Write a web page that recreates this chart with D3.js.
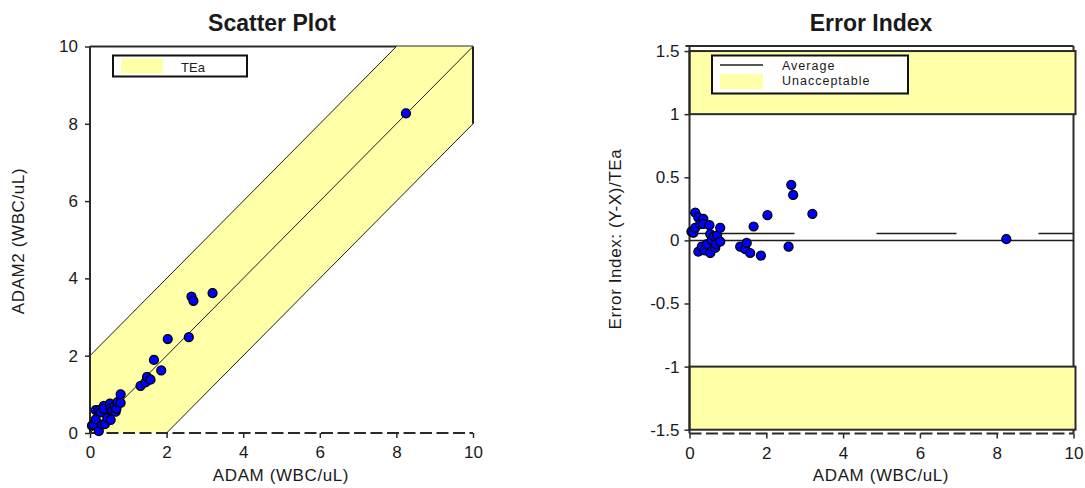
<!DOCTYPE html>
<html>
<head>
<meta charset="utf-8">
<script src="https://cdn.jsdelivr.net/npm/d3@7"></script>
<style>
    body { margin: 0; background: #ffffff; }
    text { font-family: "Liberation Sans", Arial, sans-serif; }
</style>
</head>
<body>
<div id="chart"></div>
<script>
//-------------------------------------------------------
// data
//-------------------------------------------------------
// method X (ADAM) and method Y (ADAM2), WBC/uL
const adam = [0.05, 0.10, 0.15, 0.15, 0.23, 0.23, 0.28, 0.32, 0.36, 0.36, 0.39, 0.45,
    0.52, 0.54, 0.54, 0.58, 0.64, 0.67, 0.69, 0.72, 0.80, 0.80,
    1.32, 1.45, 1.49, 1.58, 1.67, 1.86, 2.03, 2.58, 2.65, 2.70, 3.20, 8.25];
const adam2 = [0.19, 0.22, 0.35, 0.59, 0.59, 0.05, 0.54, 0.22, 0.70, 0.62, 0.23, 0.39,
    0.76, 0.64, 0.34, 0.58, 0.70, 0.55, 0.63, 0.80, 1.00, 0.78,
    1.22, 1.31, 1.45, 1.38, 1.89, 1.62, 2.43, 2.48, 3.53, 3.42, 3.62, 8.27];
// total allowable error (absolute)
const tea = 2;

const xTicks = [0, 2, 4, 6, 8, 10];
const yTicksScatter = [0, 2, 4, 6, 8, 10];
const yTicksError = [-1.5, -1, -0.5, 0, 0.5, 1, 1.5];
const limits = [-1, 1];        // unacceptable beyond +/-1
const limitsEdge = [-1.5, 1.5];

const points = adam.map((x, i) => ({ x: x, y: adam2[i], ei: (adam2[i] - x) / tea }));
const average = d3.mean(points, d => d.ei);

//-------------------------------------------------------
// properties
//-------------------------------------------------------
let properties = {
    width: 1085,
    height: 488,
    color: {
        band: "#ffffa8",
        point: "#0000ff",
        line: "#1e1e1e",
        axis: "#2a2a2a",
        text: "#1a1a1a"
    },
    tickFont: "17px",
    labelFont: "17px"
};

const svg = d3.select("#chart")
    .append("svg")
    .attr("width", properties.width)
    .attr("height", properties.height);

svg.append("rect")
    .attr("width", properties.width)
    .attr("height", properties.height)
    .attr("fill", "#ffffff");

const symbol = d3.symbol().type(d3.symbolCircle).size(64);

function styleAxis(g) {
    g.select(".domain").remove();
    g.selectAll(".tick line").attr("stroke", properties.color.axis).attr("stroke-width", 1.5);
    g.selectAll(".tick text")
        .attr("fill", properties.color.text)
        .style("font-size", properties.tickFont);
}

//-------------------------------------------------------
// scatter plot (left)
//-------------------------------------------------------
const xL = d3.scaleLinear().domain([0, 10]).range([90, 473]);
const yL = d3.scaleLinear().domain([0, 10]).range([433, 46.5]);
const left = svg.append("g").attr("id", "scatter");

// top frame line (partly covered by the band)
left.append("line")
    .attr("x1", xL(0)).attr("x2", xL(10))
    .attr("y1", yL(10)).attr("y2", yL(10))
    .attr("stroke", properties.color.axis)
    .attr("stroke-width", 2);

// TEa band around identity
const bandPts = [[0, 0], [0, tea], [10 - tea, 10], [10, 10], [10, 10 - tea], [tea, 0]];
left.append("polygon")
    .attr("points", bandPts.map(p => `${xL(p[0])},${yL(p[1])}`).join(" "))
    .attr("fill", properties.color.band);

const diagLines = [
    [[0, tea], [10 - tea, 10]],
    [[0, 0], [10, 10]],
    [[tea, 0], [10, 10 - tea]],
    [[10, 10 - tea], [10, 10]]
];
left.selectAll("line.diag")
    .data(diagLines)
    .enter()
    .append("line")
    .attr("class", "diag")
    .attr("x1", d => xL(d[0][0])).attr("y1", d => yL(d[0][1]))
    .attr("x2", d => xL(d[1][0])).attr("y2", d => yL(d[1][1]))
    .attr("stroke", properties.color.line)
    .attr("stroke-width", (d, i) => i == 3 ? 2 : 1);

// axes
left.append("g")
    .attr("transform", `translate(${xL(0)},0)`)
    .call(d3.axisLeft(yL).tickValues(yTicksScatter).tickSizeInner(5).tickSizeOuter(0).tickPadding(7))
    .call(styleAxis);
left.append("line")
    .attr("x1", xL(0)).attr("x2", xL(0))
    .attr("y1", yL(0)).attr("y2", yL(10))
    .attr("stroke", properties.color.axis)
    .attr("stroke-width", 2);

left.append("g")
    .attr("transform", `translate(0,${yL(0)})`)
    .call(d3.axisBottom(xL).tickValues(xTicks).tickSizeInner(5).tickSizeOuter(0).tickPadding(8))
    .call(styleAxis);
left.append("line")
    .attr("x1", xL(0)).attr("x2", xL(10))
    .attr("y1", yL(0)).attr("y2", yL(0))
    .attr("stroke", properties.color.axis)
    .attr("stroke-width", 2)
    .attr("stroke-dasharray", "12,4.5");

// points
left.append("g")
    .selectAll("path")
    .data(points)
    .enter()
    .append("path")
    .attr("d", symbol)
    .attr("transform", d => `translate(${xL(d.x)},${yL(d.y)})`)
    .attr("fill", properties.color.point)
    .attr("stroke", "#000000")
    .attr("stroke-width", 1.2);

// legend
const legL = left.append("g");
legL.append("rect")
    .attr("x", 113).attr("y", 55.5).attr("width", 134).attr("height", 21)
    .attr("fill", "#ffffff").attr("stroke", "#111111").attr("stroke-width", 2);
legL.append("rect")
    .attr("x", 121).attr("y", 58.5).attr("width", 42).attr("height", 15)
    .attr("fill", properties.color.band);
legL.append("text")
    .attr("x", 193).attr("y", 71.5)
    .attr("text-anchor", "middle")
    .attr("fill", properties.color.text)
    .style("font-size", "13px")
    .text("TEa");

// titles
left.append("text")
    .attr("x", 272).attr("y", 31)
    .attr("text-anchor", "middle")
    .style("font-size", "23px").style("font-weight", "bold")
    .attr("fill", properties.color.text)
    .text("Scatter Plot");
left.append("text")
    .attr("x", 281).attr("y", 481)
    .attr("text-anchor", "middle")
    .style("font-size", properties.labelFont).style("letter-spacing", "0.6px")
    .attr("fill", properties.color.text)
    .text("ADAM (WBC/uL)");
left.append("text")
    .attr("transform", "translate(24,241) rotate(-90)")
    .attr("text-anchor", "middle")
    .style("font-size", properties.labelFont).style("letter-spacing", "0.6px")
    .attr("fill", properties.color.text)
    .text("ADAM2 (WBC/uL)");

//-------------------------------------------------------
// error index (right)
//-------------------------------------------------------
const xR = d3.scaleLinear().domain([0, 10]).range([689.5, 1073.5]);
const yR = d3.scaleLinear().domain([-1.53, 1.54]).range([433.5, 46]);
const right = svg.append("g").attr("id", "error-index");

// frame top and right
right.append("line")
    .attr("x1", xR(0) - 4).attr("x2", xR(10))
    .attr("y1", yR.range()[1]).attr("y2", yR.range()[1])
    .attr("stroke", properties.color.axis).attr("stroke-width", 2);
right.append("line")
    .attr("x1", xR(10)).attr("x2", xR(10))
    .attr("y1", yR.range()[1]).attr("y2", yR.range()[0])
    .attr("stroke", properties.color.axis).attr("stroke-width", 2);

// unacceptable bands
const bands = [[limits[1], limitsEdge[1]], [limitsEdge[0], limits[0]]];
right.selectAll("rect.band")
    .data(bands)
    .enter()
    .append("rect")
    .attr("class", "band")
    .attr("x", xR(0))
    .attr("y", d => yR(d[1]))
    .attr("width", xR(10) - xR(0) + 2)
    .attr("height", d => yR(d[0]) - yR(d[1]))
    .attr("fill", properties.color.band)
    .attr("stroke", properties.color.axis)
    .attr("stroke-width", 2);

// zero line
right.append("line")
    .attr("x1", xR(0)).attr("x2", xR(10))
    .attr("y1", yR(0)).attr("y2", yR(0))
    .attr("stroke", properties.color.line).attr("stroke-width", 1.5);

// average line
right.append("line")
    .attr("x1", xR(0)).attr("x2", xR(10))
    .attr("y1", yR(average)).attr("y2", yR(average))
    .attr("stroke", properties.color.line).attr("stroke-width", 1.5)
    .attr("stroke-dasharray", "105,82,80,82,80,82");

// axes
right.append("g")
    .attr("transform", `translate(${xR(0)},0)`)
    .call(d3.axisLeft(yR).tickValues(yTicksError).tickFormat(d => String(d))
        .tickSizeInner(5).tickSizeOuter(0).tickPadding(5))
    .call(styleAxis);
right.append("line")
    .attr("x1", xR(0)).attr("x2", xR(0))
    .attr("y1", yR.range()[0]).attr("y2", yR.range()[1])
    .attr("stroke", properties.color.axis).attr("stroke-width", 2);

right.append("g")
    .attr("transform", `translate(0,${yR.range()[0]})`)
    .call(d3.axisBottom(xR).tickValues(xTicks).tickSizeInner(5).tickSizeOuter(0).tickPadding(8))
    .call(styleAxis);
right.append("line")
    .attr("x1", xR(0)).attr("x2", xR(10))
    .attr("y1", yR.range()[0]).attr("y2", yR.range()[0])
    .attr("stroke", properties.color.axis).attr("stroke-width", 2)
    .attr("stroke-dasharray", "12,4.5");

// points
right.append("g")
    .selectAll("path")
    .data(points)
    .enter()
    .append("path")
    .attr("d", symbol)
    .attr("transform", d => `translate(${xR(d.x)},${yR(d.ei)})`)
    .attr("fill", properties.color.point)
    .attr("stroke", "#000000")
    .attr("stroke-width", 1.2);

// legend
const legR = right.append("g");
legR.append("rect")
    .attr("x", 712).attr("y", 55.5).attr("width", 196).attr("height", 38)
    .attr("fill", "#ffffff").attr("stroke", "#111111").attr("stroke-width", 2);
legR.append("line")
    .attr("x1", 720).attr("x2", 763).attr("y1", 65).attr("y2", 65)
    .attr("stroke", properties.color.line).attr("stroke-width", 1.5);
legR.append("rect")
    .attr("x", 720).attr("y", 74).attr("width", 43).attr("height", 15)
    .attr("fill", properties.color.band);
legR.selectAll("text")
    .data(["Average", "Unacceptable"])
    .enter()
    .append("text")
    .attr("x", 782)
    .attr("y", (d, i) => 69.5 + i * 15)
    .attr("fill", properties.color.text)
    .style("font-size", "12.5px").style("letter-spacing", "1px")
    .text(d => d);

// titles
right.append("text")
    .attr("x", 871).attr("y", 31)
    .attr("text-anchor", "middle")
    .style("font-size", "23px").style("font-weight", "bold")
    .attr("fill", properties.color.text)
    .text("Error Index");
right.append("text")
    .attr("x", 881).attr("y", 481)
    .attr("text-anchor", "middle")
    .style("font-size", properties.labelFont).style("letter-spacing", "0.6px")
    .attr("fill", properties.color.text)
    .text("ADAM (WBC/uL)");
right.append("text")
    .attr("transform", "translate(621,239) rotate(-90)")
    .attr("text-anchor", "middle")
    .style("font-size", properties.labelFont).style("letter-spacing", "0.6px")
    .attr("fill", properties.color.text)
    .text("Error Index: (Y-X)/TEa");
</script>
</body>
</html>
